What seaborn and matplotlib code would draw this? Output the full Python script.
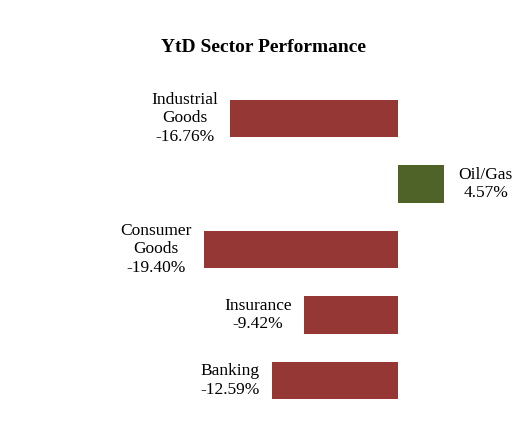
import matplotlib
matplotlib.use("Agg")
import matplotlib.pyplot as plt
import seaborn as sns
import pandas as pd

categories = ["Industrial\nGoods", "Oil/Gas", "Consumer\nGoods", "Insurance", "Banking"]
values = [-16.76, 4.57, -19.40, -9.42, -12.59]

df = pd.DataFrame({"cat": categories, "val": values})
colors = ["#953735" if v < 0 else "#4F6228" for v in values]

fig = plt.figure(figsize=(5.27, 4.46), dpi=100)
ax = fig.add_axes([0, 0, 1, 1])
sns.barplot(data=df, x="val", y="cat", hue="cat", palette=colors, legend=False,
            width=0.57, orient="h", ax=ax, saturation=1)
ax.set_xlim(-39.8, 12.9)
ax.set_ylim(5.0, -1.809)
ax.axis("off")

font = dict(family="Liberation Serif", fontsize=12.5)
for i, (c, v) in enumerate(zip(categories, values)):
    label = f"{c}\n{v:.2f}%"
    if v < 0:
        ax.text(v - 1.2, i, label, ha="right", va="center", multialignment="center", **font)
    else:
        ax.text(v + 1.5, i, label, ha="left", va="center", multialignment="center", **font)

fig.text(0.5, 1 - 48/446, "YtD Sector Performance", ha="center", va="center",
         family="Liberation Serif", fontsize=14, fontweight="bold")
fig.savefig("out.png", dpi=100)
